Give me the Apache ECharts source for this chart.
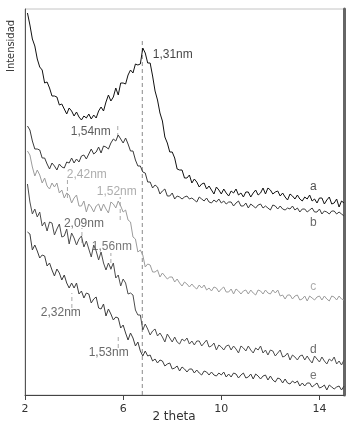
<!DOCTYPE html>
<html>
<head>
<meta charset="utf-8">
<script src="https://cdn.jsdelivr.net/npm/echarts@6/dist/echarts.min.js"></script>
<style>
  html, body { margin: 0; padding: 0; background: #fff; }
  #xrd { width: 354px; height: 424px; }
</style>
</head>
<body>
<div id="xrd"></div>
<script>
// difractogramas a-e, 2 theta de 2.1 a 15.0 cada 0.1
const thetaStart = 2.1;
const thetaStep = 0.1;

const curveA = [
  382,370,356,349,336,328,325,312,313,307,
  299,299,298,290,291,286,281,287,284,279,
  283,278,275,279,277,281,276,280,277,284,
  288,284,293,300,294,298,307,300,312,312,
  311,320,325,322,331,330,331,347,342,332,
  332,319,304,295,282,274,258,252,243,243,
  237,226,225,225,217,217,220,212,216,213,
  208,211,212,206,209,205,201,208,205,201,
  206,202,199,204,202,206,200,202,198,203,
  203,198,202,205,200,202,207,201,207,205,
  201,203,204,199,202,198,195,201,199,196,
  200,196,194,198,196,200,194,196,192,197,
  197,191,195,198,191,192,196,188,194,192
];
const curveB = [
  269,265,254,246,246,245,237,237,231,226,
  232,229,225,231,228,227,233,232,237,232,
  236,233,239,240,236,241,246,241,243,248,
  242,249,248,246,252,256,254,260,256,252,
  257,251,244,244,235,229,229,223,222,213,
  213,207,210,208,201,204,206,199,199,202,
  196,199,198,196,198,199,196,197,195,193,
  198,196,194,197,193,192,195,193,196,192,
  194,191,193,193,189,192,194,189,189,192,
  187,191,189,187,190,191,187,189,187,185,
  190,189,186,189,186,185,187,186,189,185,
  187,183,186,186,183,185,187,183,183,186,
  181,184,183,181,184,184,181,183,181,179
];
const curveC = [
  244,240,228,219,225,220,212,217,209,206,
  212,208,212,202,205,197,202,200,192,197,
  200,189,189,194,183,191,188,183,189,191,
  184,191,186,182,193,191,187,194,189,183,
  185,175,173,158,156,143,145,140,128,131,
  130,123,123,125,118,122,119,116,118,118,
  113,116,112,109,113,111,108,111,108,106,
  110,107,110,105,107,104,108,107,103,106,
  108,103,103,106,101,106,104,101,104,105,
  101,105,102,100,105,104,101,105,102,101,
  105,102,105,99,100,96,100,100,96,99,
  100,95,96,99,94,99,97,95,98,99,
  95,99,96,94,99,98,95,99,96,95
];
const curveD = [
  211,193,181,186,178,183,169,173,164,173,
  172,160,166,171,158,159,166,151,162,157,
  150,156,159,148,154,146,138,150,144,135,
  143,132,125,132,126,132,117,120,109,116,
  112,101,102,100,85,80,80,65,71,66,
  60,64,66,59,62,58,53,61,57,53,
  58,53,51,56,54,57,51,54,50,54,
  54,49,52,55,48,49,52,45,50,48,
  45,49,50,45,49,46,42,49,47,44,
  49,45,42,47,45,49,42,45,40,45,
  44,39,42,45,38,39,42,35,40,38,
  35,39,40,35,39,35,32,39,36,33,
  38,34,31,36,34,38,31,34,30,35
];
const curveE = [
  163,161,145,150,144,137,140,139,129,132,
  125,119,126,122,115,120,112,107,112,107,
  112,101,104,97,102,101,92,96,98,87,
  86,91,79,86,81,75,78,77,67,70,
  62,55,62,57,49,53,44,39,44,39,
  40,34,36,32,35,34,29,31,32,26,
  27,29,24,28,26,23,26,26,22,25,
  22,20,24,23,20,23,20,19,22,20,
  23,18,21,18,22,21,17,20,22,17,
  18,21,16,21,19,16,19,20,15,19,
  15,13,17,16,12,16,12,11,14,12,
  14,9,12,9,12,12,8,10,12,7,
  8,10,5,10,8,6,8,9,5,9
];

const curveNames = ['a', 'b', 'c', 'd', 'e'];
const xTicks = [2, 6, 10, 14];

// picos marcados (distancia basal)
const peakNames = ['1,31nm', '1,54nm', '2,42nm', '1,52nm', '2,09nm', '1,56nm', '2,32nm', '1,53nm'];
const peakTheta = [6.78, 5.78, 3.73, 5.88, 4.32, 5.5, 3.91, 5.8];

// donde van las marcas y textos (en unidades del gráfico)
const peakTickLow = [0, 258, 197, 175, 152, 125, 87, 47];
const peakTickHigh = [355, 272, 215, 198, 167, 142, 102, 58];
const peakLabelAt = [[8.02, 340], [4.68, 263], [4.52, 220], [5.74, 203], [4.40, 171], [5.54, 148], [3.46, 82], [5.41, 42]];
const peakColors = ['#111', '#333', '#999', '#999', '#444', '#555', '#444', '#444'];
const curveLabelAt = [[13.75, 208], [13.75, 172], [13.75, 108], [13.75, 45], [13.75, 19]];
const curveColors = ['#111', '#3a3a3a', '#9c9c9c', '#4c4c4c', '#3c3c3c'];
const letterColors = ['#222', '#444', '#999', '#444', '#555'];

function toPairs(vals) {
  return vals.map((v, i) => [+(thetaStart + i * thetaStep).toFixed(2), v]);
}

const chart = echarts.init(document.getElementById('xrd'));

const series = [];
[curveA, curveB, curveC, curveD, curveE].forEach((vals, k) => {
  series.push({
    name: curveNames[k],
    type: 'line',
    data: toPairs(vals),
    showSymbol: false,
    z: 10 - k,
    lineStyle: { color: curveColors[k], width: 1 },
    animation: false
  });
});

// marcas discontinuas de los picos
peakTheta.forEach((t, i) => {
  series.push({
    type: 'line',
    data: [[t, peakTickLow[i]], [t, peakTickHigh[i]]],
    showSymbol: false,
    z: 2,
    lineStyle: { color: i === 0 ? '#8a8a8a' : '#a8a8a8', width: 1, type: [4, 3] },
    animation: false
  });
});

// textos de los picos
series.push({
  type: 'scatter',
  symbolSize: 0,
  z: 20,
  animation: false,
  data: peakNames.map((n, i) => ({
    value: peakLabelAt[i],
    label: {
      show: true, position: 'inside', formatter: n,
      color: peakColors[i], fontSize: 12,
      fontFamily: 'Liberation Sans, Arial, sans-serif'
    }
  }))
});

// letras de las curvas
series.push({
  type: 'scatter',
  symbolSize: 0,
  z: 20,
  animation: false,
  data: curveNames.map((n, i) => ({
    value: curveLabelAt[i],
    label: {
      show: true, position: 'inside', formatter: n,
      color: letterColors[i], fontSize: 12,
      fontFamily: 'Liberation Sans, Arial, sans-serif'
    }
  }))
});

const option = {
  animation: false,
  grid: {
    left: 25, right: 10, top: 9, bottom: 29,
    show: true, borderColor: '#c4c4c4', borderWidth: 1
  },
  xAxis: {
    type: 'value',
    min: 2, max: 15, interval: 4,
    axisLine: { lineStyle: { color: '#444', width: 1 } },
    axisTick: { show: true, length: 5, customValues: xTicks, lineStyle: { color: '#444' } },
    axisLabel: {
      customValues: xTicks, color: '#333', fontSize: 11, margin: 9,
      fontFamily: 'DejaVu Sans, sans-serif'
    },
    splitLine: { show: false }
  },
  yAxis: [{
    type: 'value',
    min: 0, max: 386,
    axisLine: { show: true, lineStyle: { color: '#555', width: 1 } },
    axisTick: { show: false },
    axisLabel: { show: false },
    splitLine: { show: false }
  }, {
    type: 'value',
    position: 'right',
    min: 0, max: 386,
    axisLine: { show: true, lineStyle: { color: '#666', width: 3 } },
    axisTick: { show: false },
    axisLabel: { show: false },
    splitLine: { show: false }
  }],
  graphic: [{
    type: 'text',
    x: 11, y: 46,
    rotation: Math.PI / 2,
    style: {
      text: 'Intensidad',
      fill: '#333',
      fontSize: 11,
      fontFamily: 'Liberation Sans Narrow, DejaVu Sans Condensed, sans-serif',
      textAlign: 'center',
      textVerticalAlign: 'middle'
    }
  }, {
    type: 'text',
    x: 174, y: 417,
    style: {
      text: '2 theta',
      fill: '#333',
      fontSize: 12,
      fontFamily: 'DejaVu Sans, sans-serif',
      textAlign: 'center',
      textVerticalAlign: 'middle'
    }
  }],
  series: series
};

chart.setOption(option);
</script>
</body>
</html>
